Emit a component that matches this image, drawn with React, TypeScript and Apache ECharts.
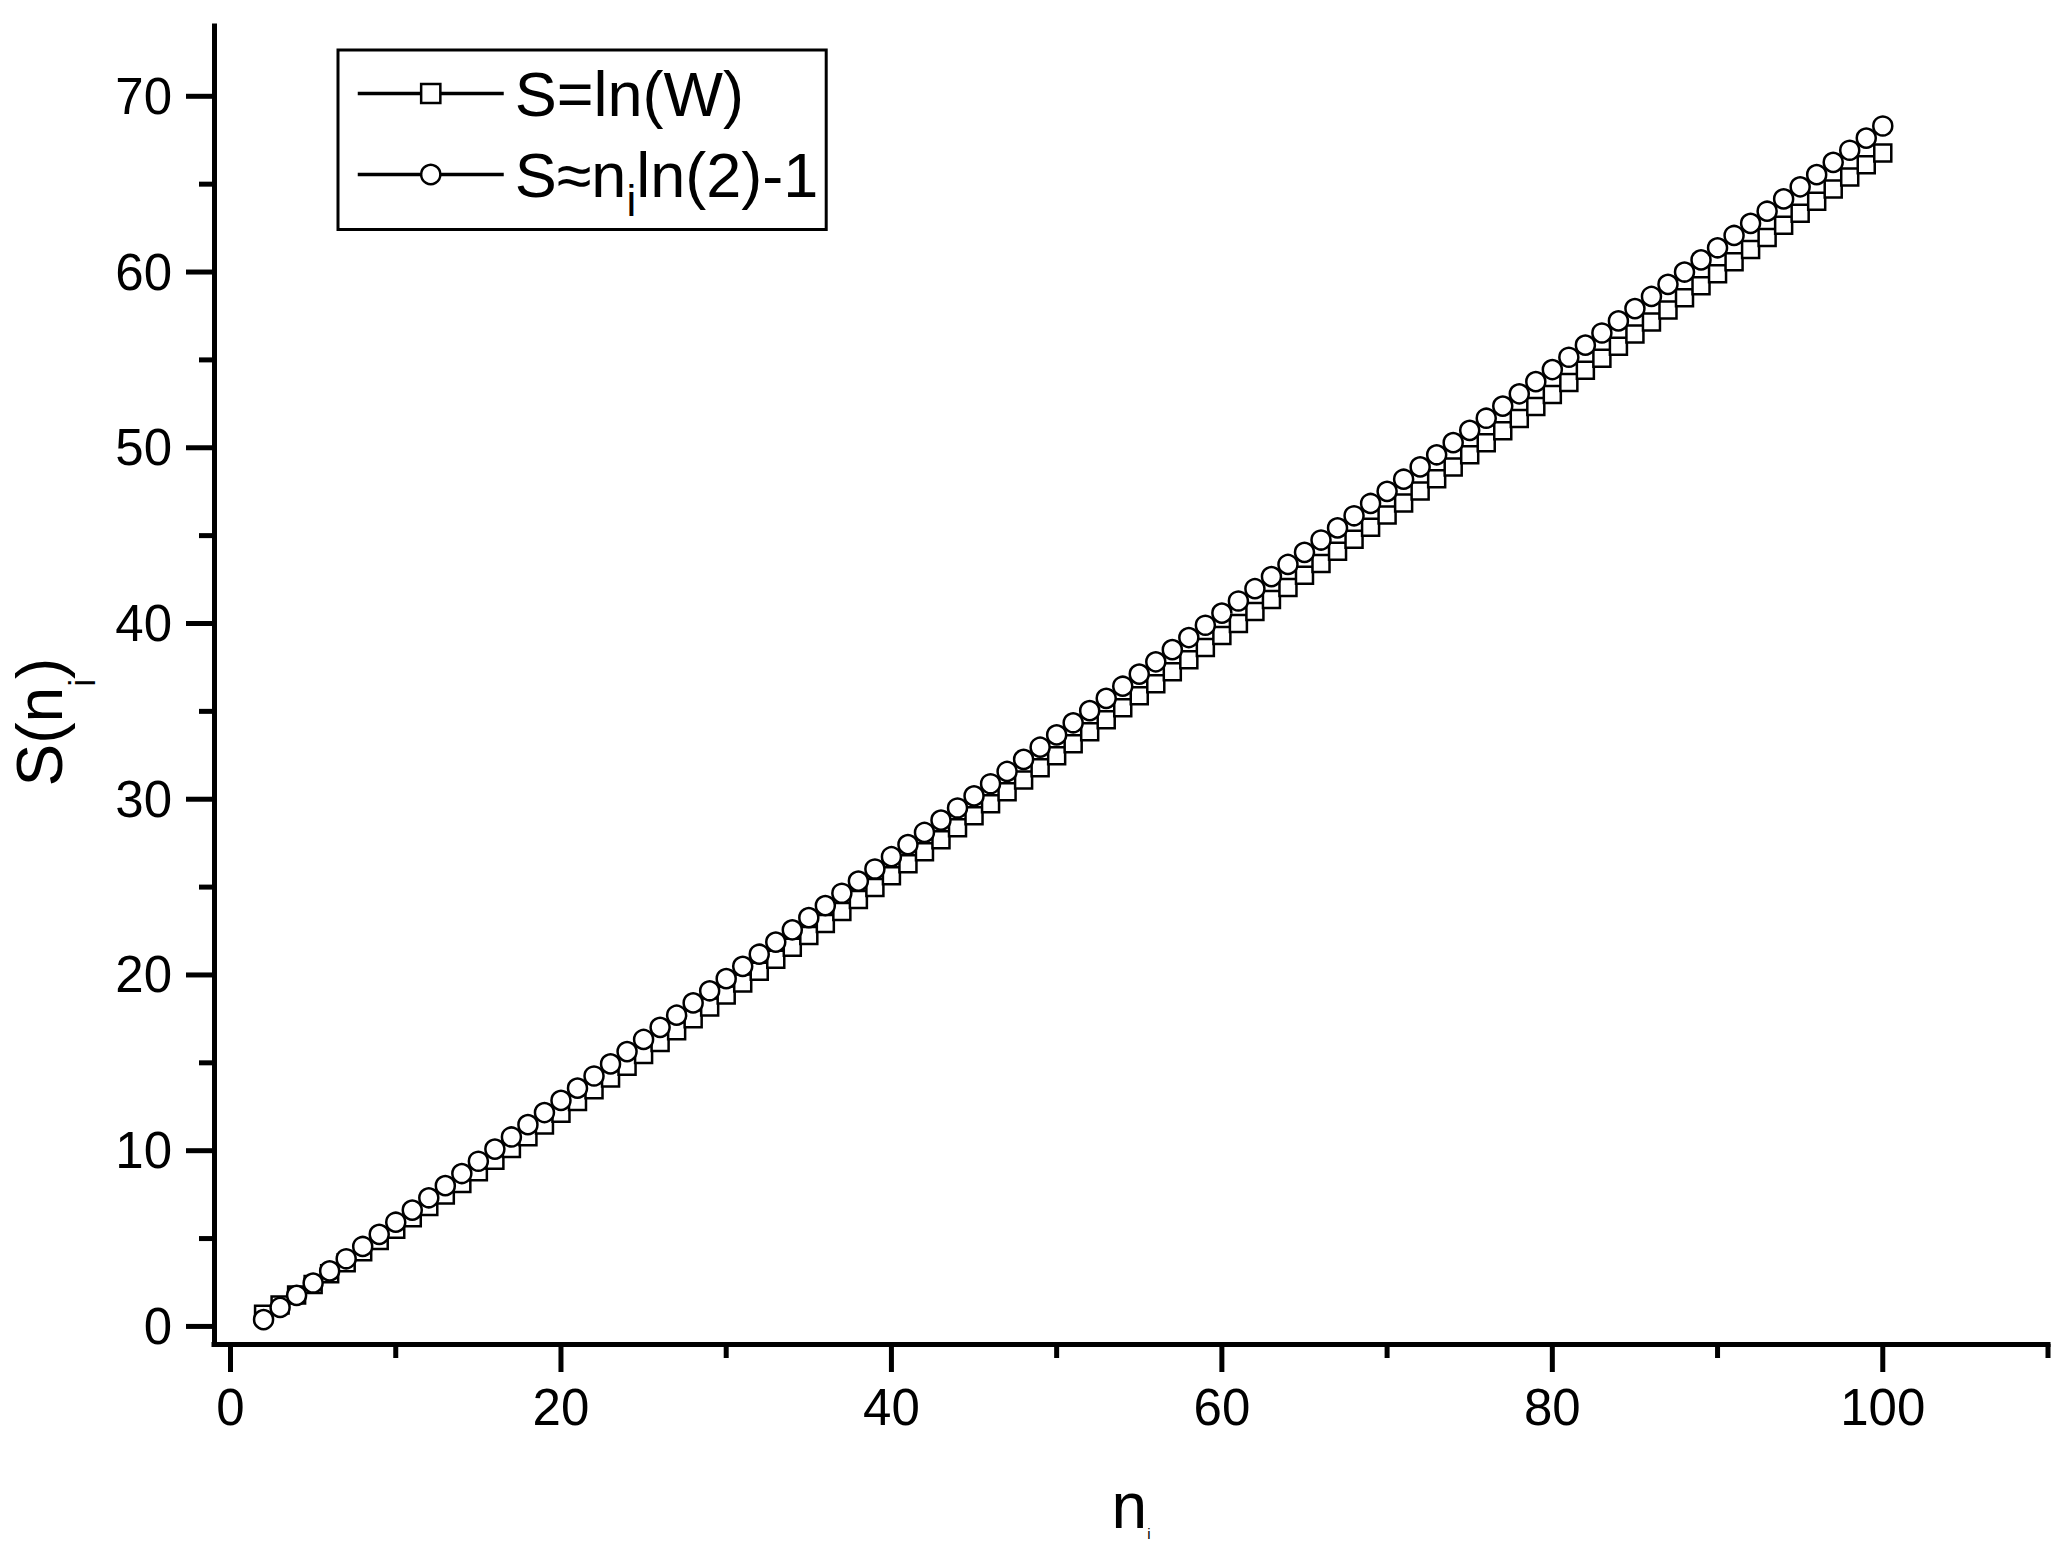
import React, { useEffect, useRef } from "react";
import * as echarts from "echarts";

// n_i values (x)
const nValues = [
  2, 3, 4, 5, 6, 7, 8, 9, 10, 11, 12, 13, 14, 15, 16, 17, 18, 19, 20, 21,
  22, 23, 24, 25, 26, 27, 28, 29, 30, 31, 32, 33, 34, 35, 36, 37, 38, 39, 40, 41,
  42, 43, 44, 45, 46, 47, 48, 49, 50, 51, 52, 53, 54, 55, 56, 57, 58, 59, 60, 61,
  62, 63, 64, 65, 66, 67, 68, 69, 70, 71, 72, 73, 74, 75, 76, 77, 78, 79, 80, 81,
  82, 83, 84, 85, 86, 87, 88, 89, 90, 91, 92, 93, 94, 95, 96, 97, 98, 99, 100,
];

// S = ln(W)  (square markers)
const sLnW = [
  0.69, 1.22, 1.79, 2.39, 3.0, 3.62, 4.25, 4.89, 5.53, 6.18,
  6.83, 7.48, 8.14, 8.8, 9.46, 10.13, 10.79, 11.46, 12.13, 12.8,
  13.47, 14.14, 14.81, 15.48, 16.16, 16.83, 17.51, 18.18, 18.86, 19.54,
  20.21, 20.89, 21.57, 22.25, 22.93, 23.61, 24.29, 24.97, 25.65, 26.33,
  27.01, 27.69, 28.37, 29.06, 29.74, 30.42, 31.1, 31.79, 32.47, 33.15,
  33.84, 34.52, 35.21, 35.89, 36.57, 37.26, 37.94, 38.63, 39.31, 40.0,
  40.68, 41.37, 42.05, 42.74, 43.42, 44.11, 44.8, 45.48, 46.17, 46.85,
  47.54, 48.23, 48.91, 49.6, 50.28, 50.97, 51.66, 52.35, 53.03, 53.72,
  54.41, 55.09, 55.78, 56.47, 57.16, 57.84, 58.53, 59.22, 59.9, 60.59,
  61.28, 61.97, 62.66, 63.34, 64.03, 64.72, 65.41, 66.1, 66.78,
];

// S ≈ n_i ln(2) - 1  (circle markers)
const sApprox = [
  0.39, 1.08, 1.77, 2.47, 3.16, 3.85, 4.55, 5.24, 5.93, 6.62,
  7.32, 8.01, 8.7, 9.4, 10.09, 10.78, 11.48, 12.17, 12.86, 13.56,
  14.25, 14.94, 15.64, 16.33, 17.02, 17.71, 18.41, 19.1, 19.79, 20.49,
  21.18, 21.87, 22.57, 23.26, 23.95, 24.65, 25.34, 26.03, 26.73, 27.42,
  28.11, 28.81, 29.5, 30.19, 30.88, 31.58, 32.27, 32.96, 33.66, 34.35,
  35.04, 35.74, 36.43, 37.12, 37.82, 38.51, 39.2, 39.9, 40.59, 41.28,
  41.98, 42.67, 43.36, 44.05, 44.75, 45.44, 46.13, 46.83, 47.52, 48.21,
  48.91, 49.6, 50.29, 50.99, 51.68, 52.37, 53.07, 53.76, 54.45, 55.15,
  55.84, 56.53, 57.22, 57.92, 58.61, 59.3, 60.0, 60.69, 61.38, 62.08,
  62.77, 63.46, 64.16, 64.85, 65.54, 66.24, 66.93, 67.62, 68.31,
];

const xMajorTicks = [0, 20, 40, 60, 80, 100];
const xMinorTicks = [10, 30, 50, 70, 90, 110];
const yMajorTicks = [0, 10, 20, 30, 40, 50, 60, 70];
const yMinorTicks = [5, 15, 25, 35, 45, 55, 65];

const seriesNames = ["S=ln(W)", "S≈niln(2)-1"];
const legendLabels = ["S=ln(W)", "S≈n{sub|i}ln(2)-1"];
const xAxisTitle = "n{sub|i}";
const yAxisTitle = "S(n{sub|i})";

const X_MIN = -1;
const X_MAX = 110;
const Y_MIN = -1;
const Y_MAX = 74;

const FONT = "'Liberation Sans', Arial, sans-serif";
const BLACK = "#000";

export default function App() {
  const ref = useRef<HTMLDivElement>(null);

  useEffect(() => {
    if (!ref.current) return;
    const chart = echarts.init(ref.current, null, { renderer: "svg" });

    const tickLabel = () => ({ fontSize: 51, lineHeight: 51, color: BLACK, fontFamily: FONT });

    // tick marks drawn outside the plot through the axis scales
    const tickSeries = (values: number[], dir: "x" | "y", len: number, width: number) => ({
      type: "custom",
      xAxisIndex: 0,
      yAxisIndex: 0,
      clip: false,
      silent: true,
      z: 6,
      data: values.map((v) => (dir === "x" ? [v, Y_MIN] : [X_MIN, v])),
      renderItem: (_params: any, api: any) => {
        const p = api.coord([api.value(0), api.value(1)]);
        const shape =
          dir === "x"
            ? { x: p[0] - width / 2, y: p[1], width, height: len }
            : { x: p[0] - len, y: p[1] - width / 2, width: len, height: width };
        return { type: "rect", shape, style: { fill: BLACK } };
      },
    });

    const option: any = {
      animation: false,
      backgroundColor: "#fff",
      textStyle: { fontFamily: FONT },
      grid: {
        left: 214,
        right: 10,
        top: 26,
        bottom: 209,
        containLabel: false,
        outerBoundsMode: "none",
      },
      legend: {
        show: true,
        orient: "vertical",
        left: 338,
        top: 50,
        padding: [12, 8, 7, 18],
        itemWidth: 146,
        itemHeight: 24,
        itemGap: 18,
        borderColor: BLACK,
        borderWidth: 3,
        backgroundColor: "#fff",
        selectedMode: false,
        data: seriesNames,
        formatter: (name: string) => legendLabels[seriesNames.indexOf(name)],
        itemStyle: { color: "#fff", borderColor: BLACK, borderWidth: 2.5 },
        lineStyle: { color: BLACK, width: 3.5 },
        textStyle: {
          fontSize: 63,
          lineHeight: 63,
          color: BLACK,
          fontFamily: FONT,
          padding: [0, 0, 0, 6],
          rich: {
            sub: {
              fontSize: 44,
              lineHeight: 44,
              color: BLACK,
              fontFamily: FONT,
              padding: [26, 0, -26, 0],
            },
          },
        },
      },
      xAxis: {
        type: "value",
        position: "bottom",
        min: X_MIN,
        max: X_MAX,
        splitLine: { show: false },
        axisLine: { show: true, onZero: false, lineStyle: { color: BLACK, width: 5, cap: "square" } },
        axisTick: { show: false },
        axisLabel: { ...tickLabel(), customValues: xMajorTicks, margin: 38 },
        name: xAxisTitle,
        nameLocation: "middle",
        nameGap: 130,
        nameMoveOverlap: false,
        nameTextStyle: {
          fontSize: 64,
          lineHeight: 64,
          color: BLACK,
          fontFamily: FONT,
          rich: {
            sub: { fontSize: 15, lineHeight: 15, color: BLACK, fontFamily: FONT, padding: [27, 0, -27, 0] },
          },
        },
      },
      yAxis: {
        type: "value",
        position: "left",
        min: Y_MIN,
        max: Y_MAX,
        splitLine: { show: false },
        axisLine: { show: true, onZero: false, lineStyle: { color: BLACK, width: 5, cap: "square" } },
        axisTick: { show: false },
        axisLabel: { ...tickLabel(), customValues: yMajorTicks, margin: 42 },
        name: yAxisTitle,
        nameLocation: "middle",
        nameGap: 142,
        nameMoveOverlap: false,
        nameTextStyle: {
          fontSize: 64,
          lineHeight: 64,
          color: BLACK,
          fontFamily: FONT,
          padding: [0, 74, 0, 0],
          rich: {
            sub: { fontSize: 36, lineHeight: 36, color: BLACK, fontFamily: FONT, padding: [42, 0, -42, 0] },
          },
        },
      },
      series: [
        {
          type: "line",
          name: seriesNames[0],
          data: nValues.map((n, i) => [n, sLnW[i]]),
          symbol: "rect",
          symbolSize: 17,
          showSymbol: true,
          itemStyle: { color: "#fff", borderColor: BLACK, borderWidth: 2.5 },
          lineStyle: { color: BLACK, width: 2 },
          emphasis: { disabled: true },
        },
        {
          type: "line",
          name: seriesNames[1],
          data: nValues.map((n, i) => [n, sApprox[i]]),
          symbol: "circle",
          symbolSize: 19,
          showSymbol: true,
          itemStyle: { color: "#fff", borderColor: BLACK, borderWidth: 2.5 },
          lineStyle: { color: BLACK, width: 2 },
          emphasis: { disabled: true },
        },
        tickSeries(xMajorTicks, "x", 28, 5),
        tickSeries(xMinorTicks, "x", 14, 5),
        tickSeries(yMajorTicks, "y", 28, 5),
        tickSeries(yMinorTicks, "y", 15, 5),
      ],
    };

    chart.setOption(option);
    return () => chart.dispose();
  }, []);

  return (
    <div
      ref={ref}
      style={{ position: "fixed", left: 0, top: 0, width: 2058, height: 1553, background: "#fff" }}
    />
  );
}
